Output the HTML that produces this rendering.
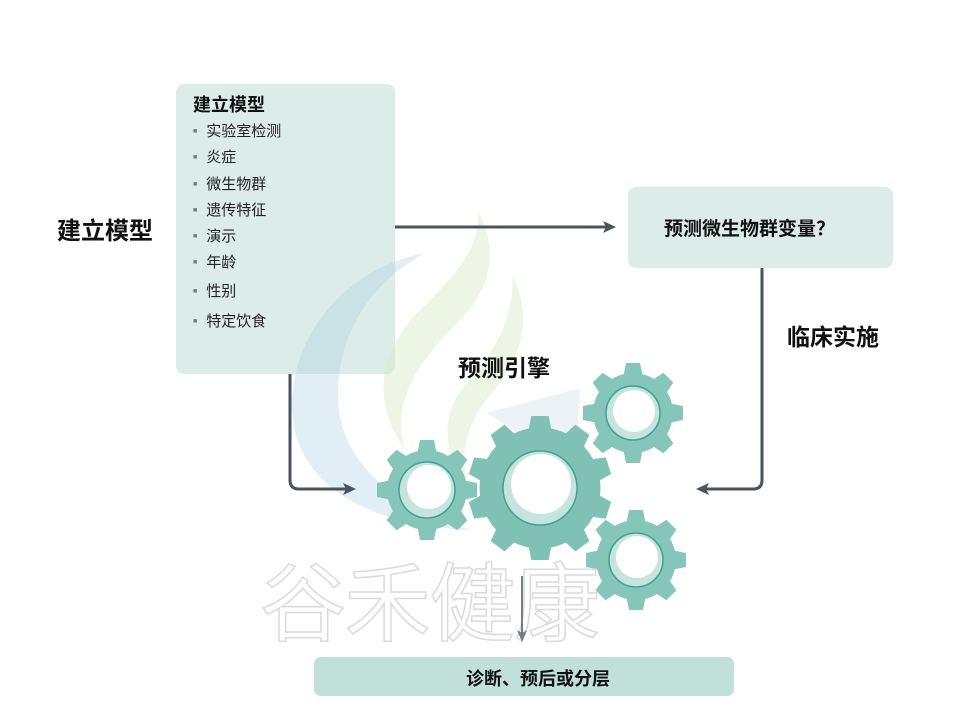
<!DOCTYPE html>
<html><head><meta charset="utf-8"><style>
body{margin:0;width:960px;height:720px;background:#fff;overflow:hidden;position:relative;font-family:"Liberation Sans","Noto Sans CJK SC",sans-serif}
.abs{position:absolute}
.it{position:absolute;left:193px;font-size:15px;color:#222;line-height:20px;white-space:nowrap}
.it span{font-size:7px;color:#777;margin-right:9px;vertical-align:3px}
</style></head><body>
<svg class="abs" style="left:0;top:0" width="960" height="720" viewBox="0 0 960 720">
<defs>
<g id="g8">
<circle r="0.8"/>
<path d="M-0.2 -0.7 L-0.14 -1 L0.14 -1 L0.2 -0.7 Z"/>
<path d="M-0.2 -0.7 L-0.14 -1 L0.14 -1 L0.2 -0.7 Z" transform="rotate(45)"/>
<path d="M-0.2 -0.7 L-0.14 -1 L0.14 -1 L0.2 -0.7 Z" transform="rotate(90)"/>
<path d="M-0.2 -0.7 L-0.14 -1 L0.14 -1 L0.2 -0.7 Z" transform="rotate(135)"/>
<path d="M-0.2 -0.7 L-0.14 -1 L0.14 -1 L0.2 -0.7 Z" transform="rotate(180)"/>
<path d="M-0.2 -0.7 L-0.14 -1 L0.14 -1 L0.2 -0.7 Z" transform="rotate(225)"/>
<path d="M-0.2 -0.7 L-0.14 -1 L0.14 -1 L0.2 -0.7 Z" transform="rotate(270)"/>
<path d="M-0.2 -0.7 L-0.14 -1 L0.14 -1 L0.2 -0.7 Z" transform="rotate(315)"/>
</g>
<g id="g10">
<circle r="0.84"/>
<path d="M-0.17 -0.75 L-0.12 -1 L0.12 -1 L0.17 -0.75 Z"/>
<path d="M-0.17 -0.75 L-0.12 -1 L0.12 -1 L0.17 -0.75 Z" transform="rotate(36)"/>
<path d="M-0.17 -0.75 L-0.12 -1 L0.12 -1 L0.17 -0.75 Z" transform="rotate(72)"/>
<path d="M-0.17 -0.75 L-0.12 -1 L0.12 -1 L0.17 -0.75 Z" transform="rotate(108)"/>
<path d="M-0.17 -0.75 L-0.12 -1 L0.12 -1 L0.17 -0.75 Z" transform="rotate(144)"/>
<path d="M-0.17 -0.75 L-0.12 -1 L0.12 -1 L0.17 -0.75 Z" transform="rotate(180)"/>
<path d="M-0.17 -0.75 L-0.12 -1 L0.12 -1 L0.17 -0.75 Z" transform="rotate(216)"/>
<path d="M-0.17 -0.75 L-0.12 -1 L0.12 -1 L0.17 -0.75 Z" transform="rotate(252)"/>
<path d="M-0.17 -0.75 L-0.12 -1 L0.12 -1 L0.17 -0.75 Z" transform="rotate(288)"/>
<path d="M-0.17 -0.75 L-0.12 -1 L0.12 -1 L0.17 -0.75 Z" transform="rotate(324)"/>
</g>
</defs>
<rect x="176" y="84" width="219" height="290" rx="8" fill="#dcece8"/>
<rect x="628" y="187" width="265" height="81" rx="8" fill="#dcece8"/>
<rect x="314" y="657" width="420" height="39" rx="7" fill="#c1e0d9"/>
<!-- watermark logo -->
<path d="M425 253 C340 270 290 340 292 410 C295 480 360 525 470 530 C390 505 340 460 338 400 C336 330 375 280 425 253 Z" fill="#a9cfe3" opacity="0.35"/>
<path d="M478 212 C500 250 490 290 460 320 C420 360 390 400 405 450 C370 400 380 350 420 310 C455 275 480 250 478 212 Z" fill="#d8ecc6" opacity="0.45"/>
<path d="M512 275 C535 320 520 360 490 395 C460 430 460 470 470 490 C440 450 440 410 470 380 C500 345 515 310 512 275 Z" fill="#d8ecc6" opacity="0.45"/>
<path d="M487 413 L580 388 L575 470 Z" fill="#dce6f0" opacity="0.5"/>
<g stroke="#465560" stroke-width="3" fill="none">
<line x1="395" y1="227" x2="612" y2="227"/>
<path d="M290 374 V480 Q290 489 299 489 H350"/>
<path d="M762 268 V480 Q762 489 753 489 H702"/>
</g>
<polygon points="616,227 603,221 606,227 603,233" fill="#465560"/>
<polygon points="356,489 343,483 346,489 343,495" fill="#465560"/>
<polygon points="696,489 709,483 706,489 709,495" fill="#465560"/>
<g fill="#86c6ba">
<use href="#g8" transform="translate(427,490) scale(50)"/>
<use href="#g8" transform="translate(633,413) scale(50)"/>
<use href="#g8" transform="translate(636,560) scale(50)"/>
</g>
<use href="#g10" transform="translate(540,488) scale(72)" fill="#80c1b5"/>
<g>
<circle cx="427" cy="490" r="28" fill="#c6e3dd" stroke="#3aa393" stroke-width="1.5"/><circle cx="429" cy="487" r="22" fill="#fff"/>
<circle cx="633" cy="413" r="27" fill="#c6e3dd" stroke="#3aa393" stroke-width="1.5"/><circle cx="634" cy="411" r="21" fill="#fff"/>
<circle cx="636" cy="560" r="27" fill="#c6e3dd" stroke="#3aa393" stroke-width="1.5"/><circle cx="637" cy="557" r="21" fill="#fff"/>
<circle cx="540" cy="488" r="37" fill="#c6e3dd" stroke="#3aa393" stroke-width="1.5"/><circle cx="541" cy="484" r="30" fill="#fff"/>
</g>
<text x="260" y="634" font-size="86" font-family="'Noto Sans CJK SC',sans-serif" fill="#fff" stroke="#dadada" stroke-width="1.5" textLength="340">谷禾健康</text>
<line x1="522" y1="576" x2="522" y2="634" stroke="#6f7f88" stroke-width="2"/>
<polygon points="522,642 517,630 522,633 527,630" fill="#6f7f88"/>
</svg>
<div class="abs" style="left:193px;top:91px;font-size:18px;font-weight:bold;color:#111">建立模型</div>
<div class="it" style="top:122px"><span>■</span>实验室检测</div>
<div class="it" style="top:148px"><span>■</span>炎症</div>
<div class="it" style="top:175px"><span>■</span>微生物群</div>
<div class="it" style="top:201px"><span>■</span>遗传特征</div>
<div class="it" style="top:227px"><span>■</span>演示</div>
<div class="it" style="top:253px"><span>■</span>年龄</div>
<div class="it" style="top:282px"><span>■</span>性别</div>
<div class="it" style="top:312px"><span>■</span>特定饮食</div>
<div class="abs" style="left:57px;top:211px;font-size:24px;font-weight:bold;color:#111">建立模型</div>
<div class="abs" style="left:664px;top:214px;font-size:19px;font-weight:bold;color:#111;white-space:nowrap">预测微生物群变量？</div>
<div class="abs" style="left:787px;top:318px;font-size:23px;font-weight:bold;color:#111">临床实施</div>
<div class="abs" style="left:458px;top:349px;font-size:23px;font-weight:bold;color:#111">预测引擎</div>
<div class="abs" style="left:466px;top:665px;font-size:18px;font-weight:bold;color:#111">诊断、预后或分层</div>
</body></html>
